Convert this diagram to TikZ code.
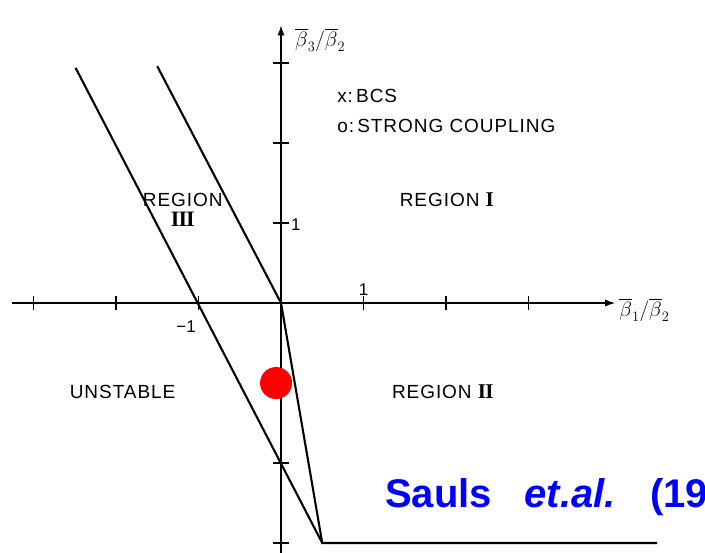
\documentclass[tikz,border=0pt]{standalone}
\usepackage{fontspec}
\usepackage{amsmath}
\setmainfont{Liberation Sans}
\newfontfamily\labelfont[LetterSpace=5]{Liberation Sans}
\newfontfamily\romfont[LetterSpace=-4]{Liberation Serif}
\usetikzlibrary{arrows.meta}
\definecolor{dotred}{RGB}{255,0,0}
\definecolor{citeblue}{RGB}{0,0,255}

\begin{document}
\begin{tikzpicture}[
  x=82.5pt, y=80pt,
  axis/.style={line width=1.1pt, -{Latex[length=10pt,width=7pt]}},
  bound/.style={line width=2.1pt},
  tickmark/.style={line width=1.1pt},
  lbl/.style={font=\labelfont\fontsize{19}{22}\selectfont, inner sep=0pt, align=center},
  num/.style={font=\fontsize{17}{19}\selectfont, inner sep=0pt},
  ratio/.style={font=\fontsize{22}{26}\selectfont, inner sep=0pt},
  cite/.style={anchor=base west, inner sep=0pt, text=citeblue, font=\fontsize{40}{46}\selectfont\bfseries}
]
  \useasboundingbox (-3.406,-3.1125) rectangle (5.139,3.7875);
  % axes
  \coordinate (xl) at (-3.26,0);
  \coordinate (xr) at (4.05,0);
  \coordinate (yb) at (0,-3.12);
  \coordinate (yt) at (0,3.47);
  \draw[axis] (xl) -- (xr);
  \draw[axis] (yb) -- (yt);
  \foreach \i in {-3,...,3} \draw[tickmark] (\i,-0.09) -- (\i,0.09);
  \foreach \j in {-3,-2,-1,1,2,3} \draw[tickmark] (-0.1,\j) -- (0.1,\j);
  \node[ratio, anchor=west] (ylab) at (0.17,3.29) {$\overline{\beta}_3/\overline{\beta}_2$};
  \node[ratio, anchor=west] (xlab) at (4.1,-0.09) {$\overline{\beta}_1/\overline{\beta}_2$};
  \node[num] (xone) at (1.0,0.17) {1};
  \node[num] (xmone) at (-1.15,-0.29) {−1};
  \node[num] (yone) at (0.18,0.98) {1};
  % boundaries
  \coordinate (topA) at (-2.49,2.94);
  \coordinate (topB) at (-1.5,2.96);
  \coordinate (O) at (0,0);
  \coordinate (V) at (0.5,-3);
  \coordinate (E) at (4.56,-3);
  \draw[bound] (topA) -- (V) -- (E);
  \draw[bound] (topB) -- (O) -- (V);
  % labels
  \node[lbl, anchor=west] (bcs) at (0.68,2.59) {x:\,BCS};
  \node[lbl, anchor=west] (strong) at (0.68,2.21) {o:\,STRONG COUPLING};
  \node[lbl] (reg3) at (-1.19,1.16) {REGION\\[-2pt]{\romfont\bfseries\fontsize{22}{24}\selectfont III}};
  \node[lbl] (reg1) at (2.01,1.29) {REGION {\romfont\bfseries\fontsize{21}{24}\selectfont I}};
  \node[lbl] (unst) at (-1.92,-1.11) {UNSTABLE};
  \node[lbl] (reg2) at (1.96,-1.11) {REGION {\romfont\bfseries\fontsize{21}{24}\selectfont II}};
  % marker and citation
  \node[circle, fill=dotred, minimum size=32pt, inner sep=0pt] (dot) at (-0.06,-1) {};
  \node[cite] (citeA) at (1.26,-2.55) {Sauls};
  \node[cite] (citeB) at (2.95,-2.55) {\textit{et.al.}};
  \node[cite] (citeC) at (4.47,-2.55) {(19};
\end{tikzpicture}
\end{document}
